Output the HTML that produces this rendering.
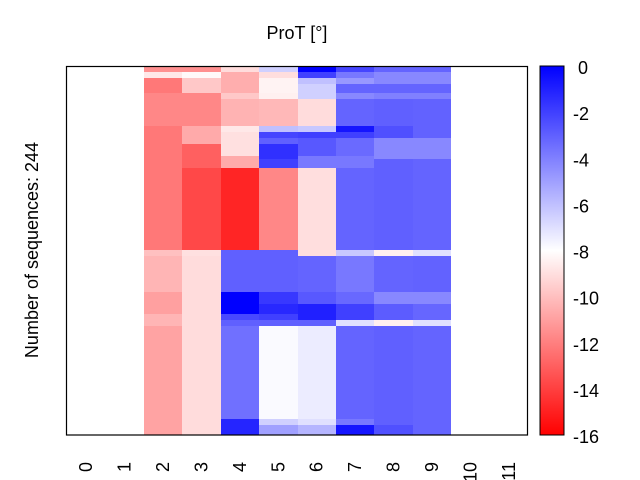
<!DOCTYPE html>
<html><head><meta charset="utf-8"><style>
html,body{margin:0;padding:0;background:#fff;}
svg{display:block;font-family:"Liberation Sans","DejaVu Sans",sans-serif;}
</style></head><body>
<svg width="640" height="480" viewBox="0 0 640 480" xmlns="http://www.w3.org/2000/svg">
<defs>
<linearGradient id="cb" x1="0" y1="0" x2="0" y2="1">
<stop offset="0" stop-color="#0000ff"/><stop offset="0.5" stop-color="#ffffff"/><stop offset="1" stop-color="#ff0000"/>
</linearGradient>
</defs>
<g id="heat" shape-rendering="crispEdges"></g>
<rect x="66.5" y="66.5" width="461" height="368.5" fill="none" stroke="#000" stroke-width="1.2"/>
<rect x="540" y="66" width="24" height="369" fill="url(#cb)"/>
<rect x="540" y="66" width="24" height="369" fill="none" stroke="#000" stroke-width="1"/>
<g font-size="18" fill="#000">
<text x="297" y="39" text-anchor="middle">ProT [°]</text>
<text transform="translate(38,250) rotate(-90)" text-anchor="middle">Number of sequences: 244</text>
</g>
<g id="cbt" font-size="18"></g>
<g id="xt" font-size="18"></g>
<script>
var cols={
2:[[67,72,"#ff9090"],[72,78,"#ffe8e8"],[78,93,"#ff7878"],[93,126,"#ff8787"],[126,250,"#ff7878"],[250,256,"#ffc0c0"],[256,292,"#ffb5b5"],[292,314,"#ffa0a0"],[314,326,"#ffb5b5"],[326,435,"#ffa3a3"]],
3:[[67,72,"#ff9090"],[72,78,"#fffafa"],[78,93,"#ffc8c8"],[93,126,"#ff8787"],[126,144,"#ffaaaa"],[144,168,"#ff6060"],[168,250,"#ff4848"],[250,256,"#ffe0e0"],[256,435,"#ffdcdc"]],
4:[[67,72,"#ffdcdc"],[72,93,"#ffaeae"],[93,99,"#ffc8c8"],[99,126,"#ffb3b3"],[126,132,"#ffe8e8"],[132,156,"#ffe0e0"],[156,168,"#ffaaaa"],[168,250,"#ff2525"],[250,292,"#6060ff"],[292,314,"#0000ff"],[314,320,"#4848ff"],[320,326,"#6060ff"],[326,419,"#7070ff"],[419,435,"#2525ff"]],
5:[[67,72,"#d0d0ff"],[72,78,"#ffdede"],[78,93,"#fff3f3"],[93,99,"#fff0f0"],[99,126,"#ffb8b8"],[126,132,"#c0c0ff"],[132,138,"#4545ff"],[138,144,"#6060ff"],[144,159,"#3030ff"],[159,168,"#4040ff"],[168,250,"#ff8787"],[250,292,"#6060ff"],[292,304,"#3838ff"],[304,314,"#2828ff"],[314,320,"#4040ff"],[320,326,"#6060ff"],[326,419,"#fafaff"],[419,425,"#d0d0ff"],[425,435,"#a0a0ff"]],
6:[[67,72,"#0000ff"],[72,78,"#4040ff"],[78,84,"#c0c0ff"],[84,99,"#d0d0ff"],[99,126,"#ffdcdc"],[126,132,"#c8c8ff"],[132,138,"#4040ff"],[138,156,"#5858ff"],[156,168,"#7878ff"],[168,256,"#ffdede"],[256,292,"#6464ff"],[292,304,"#5858ff"],[304,320,"#2020ff"],[320,326,"#6060ff"],[326,419,"#ececff"],[419,425,"#e0e0ff"],[425,435,"#b5b5ff"]],
7:[[67,72,"#4545ff"],[72,78,"#7878ff"],[78,84,"#9898ff"],[84,93,"#6464ff"],[93,99,"#8888ff"],[99,126,"#6464ff"],[126,132,"#1515ff"],[132,138,"#4040ff"],[138,156,"#6a6aff"],[156,168,"#7878ff"],[168,250,"#6464ff"],[250,256,"#c8c8ff"],[256,292,"#7878ff"],[292,304,"#6868ff"],[304,320,"#4040ff"],[320,326,"#e0e0ff"],[326,419,"#6464ff"],[419,425,"#7878ff"],[425,435,"#1515ff"]],
8:[[67,72,"#6464ff"],[72,84,"#8888ff"],[84,93,"#6464ff"],[93,99,"#8080ff"],[99,126,"#6060ff"],[126,138,"#5050ff"],[138,159,"#8888ff"],[159,250,"#6060ff"],[250,256,"#fff0f0"],[256,292,"#6464ff"],[292,304,"#8888ff"],[304,320,"#5c5cff"],[320,326,"#fff0f0"],[326,425,"#6060ff"],[425,435,"#5050ff"]],
9:[[67,72,"#6464ff"],[72,84,"#8888ff"],[84,93,"#6464ff"],[93,99,"#8080ff"],[99,138,"#6262ff"],[138,159,"#8888ff"],[159,250,"#6464ff"],[250,256,"#e0e0ff"],[256,292,"#6262ff"],[292,304,"#8888ff"],[304,320,"#6666ff"],[320,326,"#e0e0ff"],[326,435,"#6464ff"]]
};
var NS="http://www.w3.org/2000/svg",g=document.getElementById("heat");
var x0=67,w=(528-67)/12;
for(var c in cols){var xa=Math.round(x0+c*w),xb=Math.round(x0+(+c+1)*w);
cols[c].forEach(function(s){var r=document.createElementNS(NS,"rect");r.setAttribute("x",xa);r.setAttribute("y",s[0]);r.setAttribute("width",xb-xa);r.setAttribute("height",s[1]-s[0]);r.setAttribute("fill",s[2]);g.appendChild(r);});}
var cb=document.getElementById("cbt");
for(var i=0;i<=8;i++){var y=66+i*369/8;
var t=document.createElementNS(NS,"text");t.setAttribute("x",i==0?578:573);t.setAttribute("y",y+8);t.textContent=i==0?"0":"-"+(2*i);cb.appendChild(t);}
var xt=document.getElementById("xt");
for(var i=0;i<12;i++){var cx=x0+(i+0.5)*w;
var t=document.createElementNS(NS,"text");t.setAttribute("transform","translate("+(cx+6)+",462) rotate(-90)");t.setAttribute("text-anchor","end");t.textContent=i;xt.appendChild(t);}
</script>
</svg>
</body></html>
